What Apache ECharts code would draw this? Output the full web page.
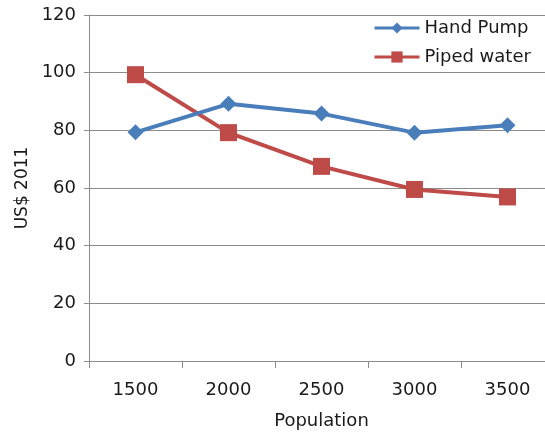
<!DOCTYPE html>
<html>
<head>
<meta charset="utf-8">
<script src="https://cdn.jsdelivr.net/npm/echarts@6/dist/echarts.min.js"></script>
<style>
  html, body { margin: 0; padding: 0; background: #fff; }
  #chart { width: 545px; height: 432px; }
</style>
</head>
<body>
<div id="chart"></div>
<script>
// Cost per person by community size
const populations = ['1500', '2000', '2500', '3000', '3500'];
const handPump = [79.3, 89.2, 85.8, 79.2, 81.8];
const pipedWater = [99.3, 79.2, 67.5, 59.5, 56.9];
const yTicks = { min: 0, max: 120, interval: 20 };

const font = '"DejaVu Sans", sans-serif';
const textColor = '#1a1a1a';
const axisColor = '#8c8c8c';

const chart = echarts.init(document.getElementById('chart'));
chart.setOption({
  backgroundColor: '#ffffff',
  animation: false,
  textStyle: { fontFamily: font },
  // plot area runs a little past the right edge of the canvas
  grid: { left: 89, width: 465, top: 15, bottom: 71, outerBoundsMode: 'none', containLabel: false },
  legend: {
    orient: 'vertical',
    left: 373,
    top: 19,
    padding: 0,
    itemWidth: 45,
    itemHeight: 14,
    itemGap: 11,
    lineStyle: { width: 3 },
    textStyle: { fontSize: 18, color: textColor, fontFamily: font },
    data: ['Hand Pump', 'Piped water']
  },
  xAxis: {
    type: 'category',
    data: populations,
    boundaryGap: true,
    name: 'Population',
    nameLocation: 'middle',
    nameGap: 51,
    nameTextStyle: { fontSize: 18, color: textColor },
    axisLine: { lineStyle: { color: axisColor, width: 1 } },
    axisTick: { show: true, length: 7, lineStyle: { color: axisColor } },
    axisLabel: { fontSize: 18, color: textColor, margin: 20 }
  },
  yAxis: {
    type: 'value',
    min: yTicks.min,
    max: yTicks.max,
    interval: yTicks.interval,
    name: 'US$ 2011',
    nameLocation: 'middle',
    nameGap: 55,
    nameRotate: 90,
    nameTextStyle: { fontSize: 17, color: textColor },
    axisLine: { show: true, lineStyle: { color: axisColor, width: 1 } },
    axisTick: { show: true, length: 5, lineStyle: { color: axisColor } },
    axisLabel: { fontSize: 18, color: textColor, margin: 13 },
    splitLine: { lineStyle: { color: axisColor, width: 1 } }
  },
  series: [
    {
      name: 'Hand Pump',
      type: 'line',
      data: handPump,
      symbol: 'diamond',
      symbolSize: 16,
      lineStyle: { color: '#4a7ebb', width: 4 },
      itemStyle: { color: '#4a7ebb' },
      z: 3
    },
    {
      name: 'Piped water',
      type: 'line',
      data: pipedWater,
      symbol: 'rect',
      symbolSize: 17,
      lineStyle: { color: '#be4b48', width: 4 },
      itemStyle: { color: '#be4b48' },
      z: 2
    }
  ]
});
</script>
</body>
</html>
